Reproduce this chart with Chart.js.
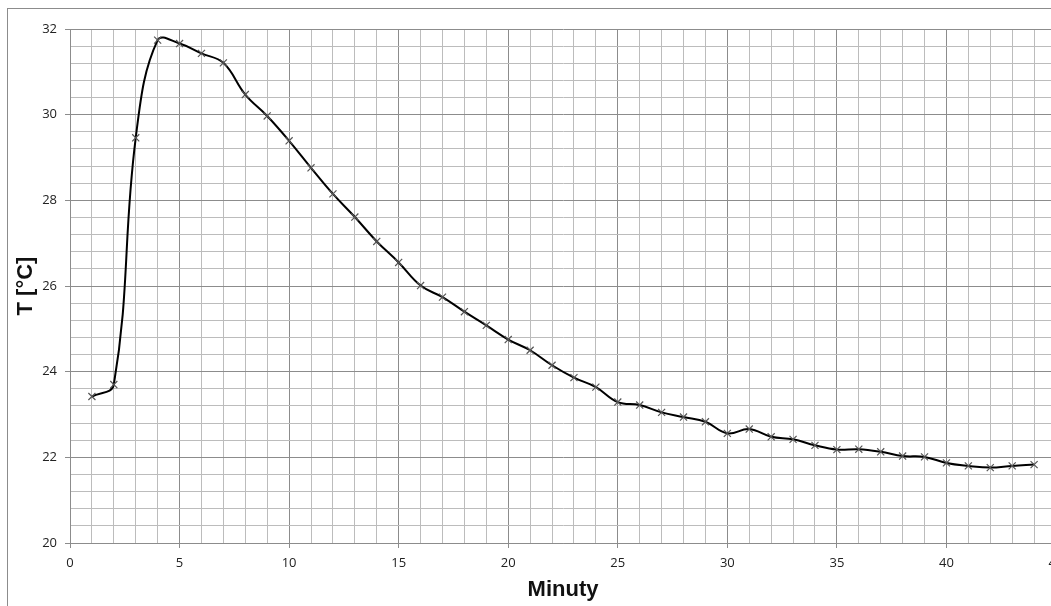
<!DOCTYPE html>
<html>
<head>
<meta charset="utf-8">
<script src="https://cdn.jsdelivr.net/npm/chart.js@4"></script>
<style>
  html, body { margin: 0; padding: 0; background: #fff; overflow: hidden; }
  #frame { position: absolute; left: 7px; top: 8px; width: 1100px; height: 700px; border: 1px solid #8c8c8c; }
  #wrap { position: absolute; left: 0; top: 0; width: 1090px; height: 606px; }
</style>
</head>
<body>
<div id="frame"></div>
<div id="wrap"><canvas id="temp-chart"></canvas></div>
<script>
// Temperature over time (minutes)
const minutes = [1, 2, 3, 4, 5, 6, 7, 8, 9, 10, 11, 12, 13, 14, 15, 16, 17, 18, 19, 20, 21, 22,
  23, 24, 25, 26, 27, 28, 29, 30, 31, 32, 33, 34, 35, 36, 37, 38, 39, 40, 41, 42, 43, 44];
const temps = [23.42, 23.70, 29.46, 31.74, 31.66, 31.43, 31.21, 30.47, 29.97, 29.39, 28.76,
  28.15, 27.61, 27.04, 26.55, 26.01, 25.74, 25.40, 25.08, 24.75, 24.50, 24.15, 23.86, 23.64,
  23.29, 23.22, 23.05, 22.94, 22.83, 22.56, 22.66, 22.48, 22.42, 22.28, 22.18, 22.19, 22.13,
  22.03, 22.01, 21.87, 21.80, 21.76, 21.80, 21.83];
const xMajorTicks = [0, 5, 10, 15, 20, 25, 30, 35, 40, 45];
const yMajorTicks = [20, 22, 24, 26, 28, 30, 32];

const isMajor = (v, list) => list.some(m => Math.abs(m - v) < 1e-6);
const majorColor = '#8c8c8c';
const minorColor = '#bcbcbc';

new Chart(document.getElementById('temp-chart'), {
  type: 'line',
  data: {
    datasets: [{
      data: minutes.map((m, i) => ({ x: m, y: temps[i] })),
      borderColor: '#000',
      borderWidth: 2,
      tension: 0.4,
      pointStyle: 'crossRot',
      pointRadius: 5,
      pointBorderColor: '#555',
      pointBorderWidth: 1.2,
      pointBackgroundColor: 'transparent',
      fill: false
    }]
  },
  options: {
    responsive: true,
    maintainAspectRatio: false,
    animation: false,
    layout: { padding: { left: 8, top: 29, right: 34, bottom: 0 } },
    plugins: { legend: { display: false }, tooltip: { enabled: false } },
    scales: {
      x: {
        type: 'linear',
        min: 0,
        max: 45,
        afterFit: s => { s.height = 63; },
        ticks: {
          stepSize: 1,
          autoSkip: false,
          maxRotation: 0,
          padding: 7,
          color: '#222',
          font: { family: 'Open Sans', size: 13 },
          callback: v => isMajor(v, xMajorTicks) ? v : ''
        },
        grid: {
          color: c => isMajor(c.tick.value, xMajorTicks) ? majorColor : minorColor,
          tickColor: c => isMajor(c.tick.value, xMajorTicks) ? majorColor : 'transparent',
          tickLength: 5
        },
        border: { color: majorColor },
        title: {
          display: true,
          text: 'Minuty',
          color: '#111',
          font: { family: 'Liberation Sans', size: 22, weight: 'bold' },
          padding: { top: 0, bottom: 3 }
        }
      },
      y: {
        min: 20,
        max: 32,
        afterFit: s => { s.width = 62; },
        ticks: {
          stepSize: 0.4,
          autoSkip: false,
          padding: 8,
          color: '#222',
          font: { family: 'Open Sans', size: 13 },
          callback: v => isMajor(v, yMajorTicks) ? Math.round(v) : ''
        },
        grid: {
          color: c => isMajor(c.tick.value, yMajorTicks) ? majorColor : minorColor,
          tickColor: c => isMajor(c.tick.value, yMajorTicks) ? majorColor : 'transparent',
          tickLength: 5
        },
        border: { color: majorColor },
        title: {
          display: true,
          text: 'T [°C]',
          color: '#111',
          font: { family: 'Liberation Sans', size: 22, weight: 'bold' },
          padding: { top: 5, bottom: 0 }
        }
      }
    }
  }
});
</script>
</body>
</html>
